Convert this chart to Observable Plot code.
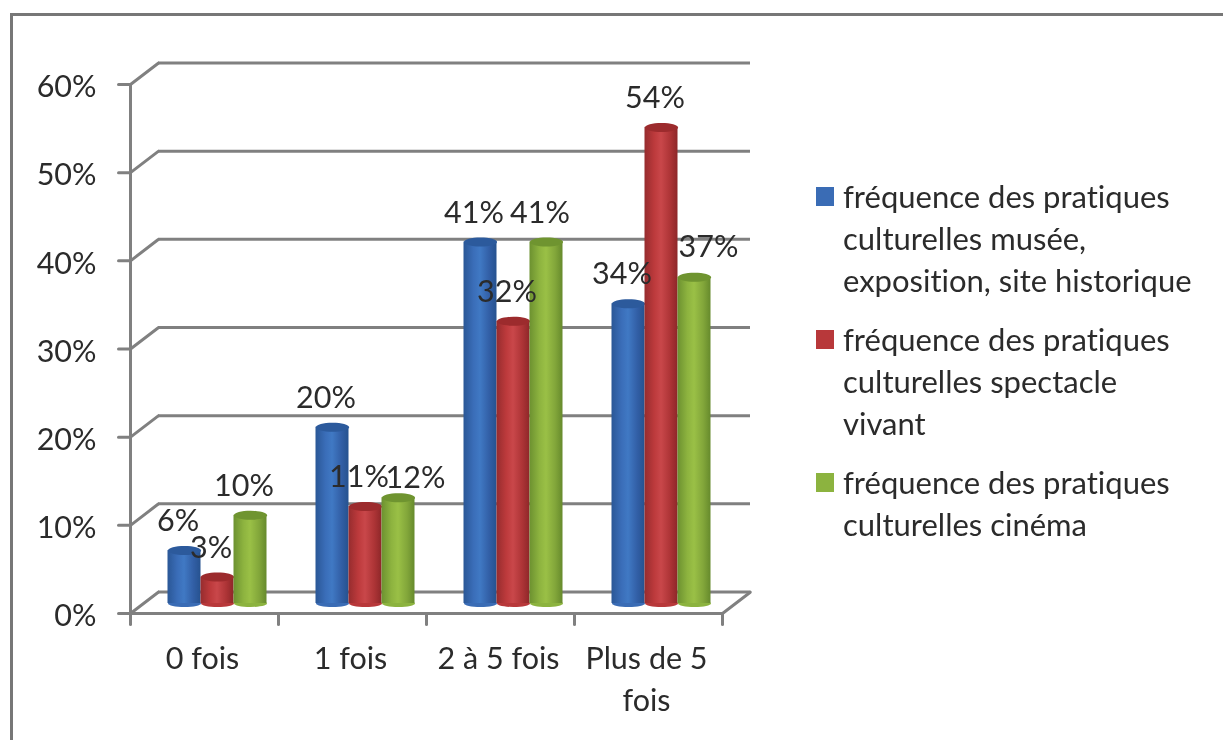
<!DOCTYPE html>
<html lang="fr">
<head>
<meta charset="utf-8">
<script src="https://cdn.jsdelivr.net/npm/d3@7"></script>
<script src="https://cdn.jsdelivr.net/npm/@observablehq/plot@0.6"></script>
<style>
html,body{margin:0;padding:0;background:#fff;overflow:hidden;}
#page{position:relative;width:1223px;height:740px;overflow:hidden;font-family:Lato,sans-serif;color:#2b2b2b;filter:blur(.7px);font-variant-ligatures:none;}
#frame{position:absolute;left:10px;top:13px;width:1300px;height:800px;border:3px solid #777;box-sizing:border-box;pointer-events:none;}
#chart{position:absolute;left:0;top:0;}
#legend{position:absolute;left:816px;top:175px;width:400px;font-size:31px;line-height:42px;}
.item{position:relative;padding-left:27px;margin-bottom:17px;white-space:pre;}
.swatch{position:absolute;left:0;top:12px;width:18px;height:19px;}
</style>
</head>
<body>
<div id="page"><div id="chart"></div><div id="frame"></div><div id="legend"></div></div>
<script>
const categories = ["0 fois", "1 fois", "2 à 5 fois", "Plus de 5 fois"];
const musee = [6, 20, 41, 34];
const spectacle = [3, 11, 32, 54];
const cinema = [10, 12, 41, 37];
const yTicks = [0, 10, 20, 30, 40, 50, 60];
const legendLabels = [
  "fréquence des pratiques\nculturelles musée,\nexposition, site historique",
  "fréquence des pratiques\nculturelles spectacle\nvivant",
  "fréquence des pratiques\nculturelles cinéma"
];

const palette = [
  {id: "gb", flat: "#3a6cb5", stops: ["#2a5796", "#3a6db8", "#4079c4", "#325fa6", "#26528f"], top: "#2c5a9c"},
  {id: "gr", flat: "#b8383a", stops: ["#962c2e", "#bd3a3c", "#c9474a", "#ad3436", "#8e2729"], top: "#9c2b2d"},
  {id: "gg", flat: "#8cb33f", stops: ["#6c9130", "#8db33f", "#9ac046", "#82a63a", "#668a2c"], top: "#6f9430"}
];
const seriesValues = [musee, spectacle, cinema];
const seriesDx = [-20, 13, 46];

const tables = seriesValues.map(vals => vals.map((v, i) => ({cat: categories[i], v, zero: 0})));

const ellipse = (rx, ry) => ({draw(c) {
  const k = 0.5523;
  c.moveTo(-rx, 0);
  c.bezierCurveTo(-rx, -ry * k, -rx * k, -ry, 0, -ry);
  c.bezierCurveTo(rx * k, -ry, rx, -ry * k, rx, 0);
  c.bezierCurveTo(rx, ry * k, rx * k, ry, 0, ry);
  c.bezierCurveTo(-rx * k, ry, -rx, ry * k, -rx, 0);
  c.closePath();
}});
const stub = {draw(c, l) { c.moveTo(0, 0); c.lineTo(0, -l); }};

const defs = () => {
  const ns = d3.create("svg:defs");
  for (const p of palette) {
    const g = ns.append("linearGradient").attr("id", p.id);
    p.stops.forEach((s, i) => g.append("stop").attr("offset", [0, .3, .5, .78, 1][i]).attr("stop-color", s));
  }
  return ns.node();
};

const gridStyle = {stroke: "#808080", strokeWidth: 3};
const labelFont = 30.5;
const wallDx = 28, wallDy = -21.5, halfBand = 74, baseDy = -10;

const marks = [
  defs,
  // back wall grid lines
  Plot.ruleY(yTicks, {y: d => d, dx: wallDx, dy: wallDy, ...gridStyle}),
  // side wall diagonals
  Plot.vector(yTicks, {x: () => categories[0], y: d => d, dx: -halfBand, rotate: 52.5, length: 35, anchor: "start", shape: stub, ...gridStyle}),
  // floor right diagonal
  Plot.vector([0], {x: () => categories[3], y: d => d, dx: halfBand, rotate: 52.5, length: 35, anchor: "start", shape: stub, ...gridStyle}),
  // front lines
  Plot.ruleX([categories[0]], {dx: -halfBand, ...gridStyle, y1: () => 0, y2: () => 60}),
  Plot.ruleY([0], gridStyle),
  // y ticks
  Plot.vector(yTicks, {x: () => categories[0], y: d => d, dx: -halfBand, rotate: -90, length: 12, anchor: "start", shape: stub, ...gridStyle}),
  // x boundary ticks
  Plot.vector(categories, {x: d => d, y: () => 0, dx: -halfBand, rotate: 180, length: 11, anchor: "start", shape: stub, ...gridStyle}),
  Plot.vector([categories[3]], {x: d => d, y: () => 0, dx: halfBand, rotate: 180, length: 11, anchor: "start", shape: stub, ...gridStyle}),
  Plot.axisY({ticks: yTicks, tickFormat: d => d + "%", tickSize: 0, tickPadding: 34, dy: 3, fontSize: labelFont, fill: "#2b2b2b", label: null, marginLeft: 130}),
  Plot.axisX({tickSize: 0, tickPadding: 26, fontSize: labelFont, lineHeight: 1.38, fill: "#2b2b2b", label: null, dx: -2,
    tickFormat: d => d === "Plus de 5 fois" ? "Plus de 5\nfois" : d})
];

tables.forEach((t, s) => {
  const p = palette[s], dx = seriesDx[s];
  marks.push(
    Plot.dot(t, {x: "cat", y: "zero", dx, dy: baseDy, r: 5, symbol: ellipse(16.5, 3.5), fill: p.flat}),
    Plot.barY(t, {x: "cat", y1: "zero", y2: "v", dx, dy: baseDy, insetLeft: 57.5, insetRight: 57.5, fill: `url(#${p.id})`}),
    Plot.dot(t, {x: "cat", y: "v", dx, dy: baseDy, r: 5, symbol: ellipse(16.5, 4.5), fill: p.top})
  );
});

// data labels, with the two that sit away from their default place
const isMoved = (s, i) => (s === 2 && i === 1) || (s === 2 && i === 3);
tables.forEach((t, s) => {
  marks.push(Plot.text(t, {
    filter: (d, i) => !isMoved(s, i),
    x: "cat", y: "v", text: d => d.v + "%", dx: seriesDx[s] - 6.5, dy: baseDy - 29,
    fontSize: labelFont, fill: "#2b2b2b"
  }));
});
marks.push(
  Plot.text(tables[2].slice(1, 2), {x: "cat", y: "v", text: d => d.v + "%", dx: seriesDx[2] + 17, dy: baseDy - 19, fontSize: labelFont, fill: "#2b2b2b"}),
  Plot.text(tables[2].slice(3, 4), {x: "cat", y: "v", text: d => d.v + "%", dx: seriesDx[2] + 14, dy: baseDy - 30, fontSize: labelFont, fill: "#2b2b2b"})
);

const chart = Plot.plot({
  width: 1223,
  height: 740,
  marginLeft: 130,
  marginRight: 501,
  marginTop: 84,
  marginBottom: 127,
  style: {fontFamily: "Lato, sans-serif", overflow: "visible", background: "transparent", fontVariantLigatures: "none"},
  x: {type: "band", domain: categories, padding: 0},
  y: {domain: [0, 60]},
  marks
});
document.getElementById("chart").append(chart);

const legend = d3.select("#legend");
legendLabels.forEach((label, i) => {
  const item = legend.append("div").attr("class", "item").text(label);
  item.append("span").attr("class", "swatch").style("background", palette[i].flat);
});
</script>
</body>
</html>
